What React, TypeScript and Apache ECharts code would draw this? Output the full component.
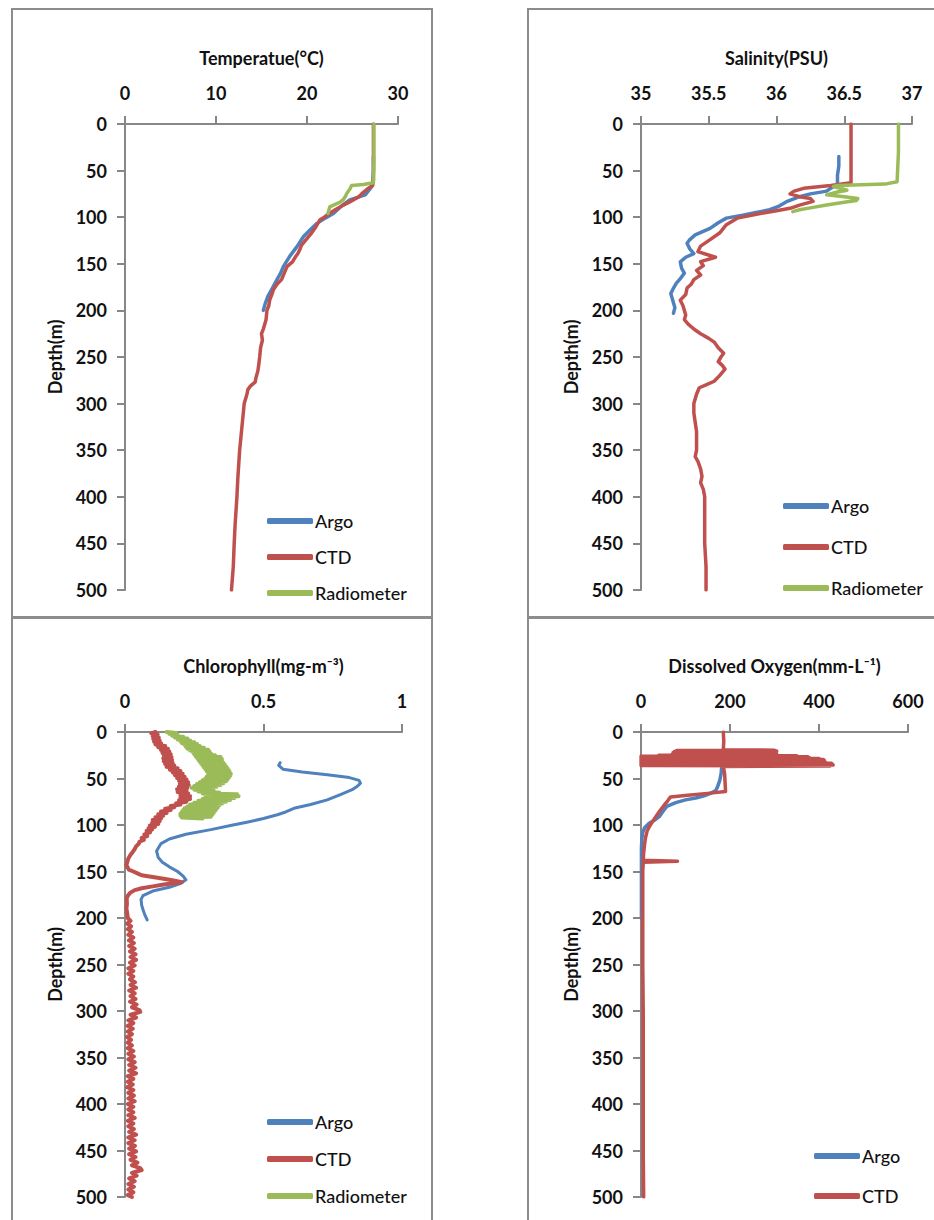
import React, { useEffect, useRef } from "react";
import * as echarts from "echarts";

// ---------- DATA: [depth (m), value] ----------
const tempArgo: number[][] = [
  [35, 27.3], [50, 27.3], [66, 27.2], [70, 26.9], [76, 26.4], [81.5, 24.7], [88, 23.8], [96, 22.9],
  [101, 22.0], [106.6, 21.1], [114, 20.3], [121, 19.6], [131.6, 18.9], [142, 18.1], [153, 17.4],
  [160, 17.1], [167, 16.7], [176, 16.2], [185, 15.7], [193, 15.4], [200, 15.2],
];
const tempCTD: number[][] = [
  [0, 27.3], [20, 27.3], [40, 27.3], [60, 27.3], [66, 27.2], [70, 26.6], [75, 26.0], [78, 25.7],
  [83, 24.8], [87, 24.0], [92, 23.1], [97, 22.3], [100, 21.9], [103, 21.4], [110, 21.0], [117, 20.5],
  [124, 19.9], [130, 19.4], [135, 19.2], [139, 19.0], [143, 18.7], [148, 18.4], [153, 17.8], [160, 17.5],
  [167, 17.2], [172, 16.7], [178, 16.3], [184, 16.1], [189, 15.9], [195, 15.8], [200, 15.6], [210, 15.5],
  [220, 15.2], [225, 15.0], [232, 15.1], [240, 14.9], [250, 14.8], [258, 14.7], [265, 14.6], [272, 14.4],
  [277, 14.3], [281, 13.8], [285, 13.5], [290, 13.4], [300, 13.1], [320, 12.9], [350, 12.6], [380, 12.4],
  [400, 12.3], [430, 12.1], [450, 12.0], [475, 11.9], [500, 11.7],
];
const tempRad: number[][] = [
  [0, 27.35], [20, 27.35], [40, 27.35], [63, 27.3], [65, 26.2], [66, 24.9], [70, 24.7], [74, 24.4],
  [78, 24.2], [81, 24.0], [84, 23.6], [89, 22.5], [96, 22.3],
];

const salArgo: number[][] = [
  [35, 36.46], [45, 36.46], [55, 36.45], [65, 36.45], [69, 36.4], [72, 36.37], [75, 36.25], [78, 36.17],
  [83, 36.08], [88, 36.02], [92, 35.95], [95, 35.85], [98, 35.75], [101, 35.63], [106, 35.57], [112, 35.51],
  [119, 35.4], [124, 35.36], [128, 35.34], [134, 35.36], [139, 35.39], [143, 35.33], [148, 35.29],
  [155, 35.3], [160, 35.32], [166, 35.29], [171, 35.26], [176, 35.24], [182, 35.22], [187, 35.23],
  [192, 35.24], [197, 35.25], [203, 35.24],
];
const salCTD: number[][] = [
  [0, 36.55], [30, 36.55], [63, 36.55], [66, 36.4], [69, 36.2], [72, 36.13], [75, 36.1], [78, 36.17],
  [80, 36.25], [83, 36.27], [87, 36.17], [90.5, 36.1], [93, 36.0], [96, 35.88], [101, 35.71], [108, 35.63],
  [117, 35.58], [124, 35.51], [131, 35.44], [137, 35.42], [143, 35.55], [147.7, 35.44], [152, 35.46],
  [157, 35.41], [162, 35.44], [167, 35.39], [172, 35.37], [176, 35.34], [183, 35.33], [189, 35.29],
  [195, 35.31], [200, 35.32], [205, 35.33], [210, 35.32], [215, 35.35], [220, 35.39], [225, 35.44],
  [230, 35.5], [234, 35.54], [240, 35.57], [246, 35.61], [250, 35.59], [255, 35.57], [259, 35.6],
  [263, 35.62], [270, 35.58], [276, 35.54], [280, 35.48], [283, 35.43], [290, 35.41], [300, 35.39],
  [310, 35.39], [320, 35.4], [330, 35.41], [340, 35.41], [350, 35.41], [357, 35.4], [362, 35.42],
  [370, 35.44], [378, 35.45], [385, 35.44], [392, 35.46], [400, 35.47], [420, 35.47], [450, 35.47],
  [475, 35.48], [500, 35.48],
];
const salRad: number[][] = [
  [0, 36.9], [30, 36.9], [62, 36.89], [64.5, 36.8], [66, 36.45], [67, 36.42], [69, 36.47], [71, 36.52],
  [73, 36.45], [76, 36.37], [78, 36.5], [80, 36.6], [82, 36.59], [84, 36.5], [87, 36.37], [90, 36.25],
  [92, 36.17], [94, 36.12],
];

const chlArgo: number[][] = [
  [33, 0.56], [36, 0.555], [40, 0.57], [43, 0.64], [46, 0.73], [49, 0.81], [52, 0.845], [55, 0.85],
  [58, 0.84], [62, 0.82], [67, 0.78], [73, 0.73], [78, 0.67], [82, 0.61], [86, 0.58], [89, 0.55],
  [93, 0.5], [97, 0.44], [100, 0.39], [105, 0.31], [110, 0.22], [115, 0.16], [120, 0.13], [128, 0.114],
  [135, 0.12], [140, 0.135], [145, 0.16], [150, 0.19], [155, 0.21], [159, 0.22], [163, 0.2], [167, 0.16],
  [171, 0.1], [176, 0.065], [180, 0.058], [186, 0.06], [192, 0.066], [197, 0.072], [202, 0.08],
];
const chlCTD: number[][] = [
  [0, 0.11], [1.5, 0.095], [3, 0.118], [4.5, 0.1], [6, 0.122], [7.5, 0.102], [9, 0.125], [10.5, 0.105],
  [12, 0.13], [13.5, 0.11], [15, 0.145], [16.5, 0.12], [18, 0.155], [19.5, 0.13], [21, 0.16], [22.5, 0.135],
  [24, 0.165], [25.5, 0.14], [27, 0.168], [28.5, 0.138], [30, 0.17], [31.5, 0.14], [33, 0.172],
  [34.5, 0.145], [36, 0.178], [37.5, 0.15], [39, 0.19], [40.5, 0.162], [42, 0.2], [43.5, 0.172],
  [45, 0.208], [46.5, 0.18], [48, 0.215], [49.5, 0.188], [51, 0.222], [52.5, 0.195], [54, 0.228],
  [55.5, 0.198], [57, 0.23], [58.5, 0.195], [60, 0.225], [61.5, 0.188], [63, 0.222], [64.5, 0.19],
  [66, 0.228], [67.5, 0.2], [69, 0.235], [70.5, 0.2], [72, 0.235], [73.5, 0.195], [75, 0.222], [76.5, 0.185],
  [78, 0.2], [79.5, 0.165], [81, 0.178], [82.5, 0.145], [84, 0.165], [85.5, 0.13], [87, 0.15], [88.5, 0.12],
  [90, 0.138], [91.5, 0.11], [93, 0.13], [94.5, 0.1], [96, 0.125], [97.5, 0.098], [99, 0.12], [100.5, 0.09],
  [102, 0.108], [103.5, 0.085], [105, 0.098], [106.5, 0.078], [108, 0.09], [110, 0.07], [112, 0.08],
  [114, 0.06], [116, 0.068], [118, 0.052], [120, 0.05], [123, 0.04], [126, 0.035], [129, 0.028],
  [132, 0.02], [136, 0.012], [140, 0.008], [143, 0.005], [146, 0.01], [148, 0.014], [150, 0.03],
  [152, 0.045], [154, 0.06], [156, 0.1], [158, 0.145], [160, 0.18], [161.6, 0.205], [163, 0.17],
  [164, 0.14], [166, 0.1], [168, 0.06], [170, 0.035], [173, 0.018], [176, 0.01], [179, 0.006],
  [185, 0.007], [190, 0.005], [195, 0.008], [200, 0.01], [203, 0.02], [206, 0.008], [209, 0.022],
  [212, 0.01], [215, 0.025], [218, 0.012], [221, 0.03], [224, 0.014], [227, 0.032], [230, 0.015],
  [233, 0.035], [236, 0.018], [239, 0.038], [242, 0.02], [245, 0.04], [248, 0.018], [251, 0.035],
  [254, 0.012], [257, 0.03], [260, 0.012], [263, 0.03], [266, 0.018], [269, 0.036], [272, 0.02],
  [275, 0.04], [278, 0.015], [281, 0.035], [284, 0.02], [287, 0.038], [290, 0.018], [293, 0.042],
  [296, 0.025], [299, 0.052], [301, 0.055], [304, 0.02], [307, 0.04], [310, 0.012], [313, 0.03],
  [316, 0.01], [319, 0.028], [322, 0.01], [325, 0.025], [328, 0.008], [331, 0.022], [334, 0.01],
  [337, 0.025], [340, 0.01], [343, 0.03], [346, 0.012], [349, 0.032], [352, 0.012], [355, 0.035],
  [358, 0.015], [361, 0.038], [364, 0.015], [367, 0.04], [370, 0.01], [373, 0.03], [376, 0.01],
  [379, 0.028], [382, 0.008], [385, 0.03], [388, 0.012], [391, 0.032], [394, 0.012], [397, 0.035],
  [400, 0.01], [403, 0.03], [406, 0.012], [409, 0.03], [412, 0.012], [415, 0.035], [418, 0.01],
  [421, 0.03], [424, 0.012], [427, 0.032], [430, 0.015], [433, 0.04], [436, 0.012], [439, 0.035],
  [442, 0.012], [445, 0.036], [448, 0.015], [451, 0.04], [454, 0.015], [457, 0.038], [460, 0.02],
  [463, 0.045], [466, 0.025], [469, 0.055], [471, 0.06], [474, 0.025], [477, 0.042], [480, 0.015],
  [483, 0.035], [486, 0.012], [489, 0.032], [492, 0.012], [495, 0.03], [498, 0.01], [500, 0.025],
];
const chlRad: number[][] = [
  [0, 0.15], [1, 0.185], [2, 0.16], [3, 0.19], [4, 0.17], [5, 0.21], [6, 0.18], [7, 0.225], [8, 0.19],
  [9, 0.235], [10, 0.2], [11, 0.25], [12, 0.205], [13, 0.26], [14, 0.215], [15, 0.27], [16, 0.22],
  [17, 0.285], [18, 0.225], [19, 0.3], [20, 0.235], [21, 0.305], [22, 0.245], [23, 0.31], [24, 0.25],
  [25, 0.325], [26, 0.255], [27, 0.345], [28, 0.26], [29, 0.35], [30, 0.265], [31, 0.35], [32, 0.27],
  [33, 0.355], [34, 0.275], [35, 0.36], [36, 0.28], [37, 0.365], [38, 0.285], [39, 0.37], [40, 0.29],
  [41, 0.375], [42, 0.295], [43, 0.378], [44, 0.3], [45, 0.382], [46, 0.3], [47, 0.38], [48, 0.295],
  [49, 0.375], [50, 0.29], [51, 0.37], [52, 0.28], [53, 0.365], [54, 0.27], [55, 0.355], [56, 0.26],
  [57, 0.345], [58, 0.25], [59, 0.33], [60, 0.24], [61, 0.31], [62, 0.25], [63, 0.32], [64, 0.265],
  [65, 0.34], [66, 0.28], [67, 0.405], [68, 0.3], [69, 0.41], [70, 0.29], [71, 0.395], [72, 0.28],
  [73, 0.38], [74, 0.265], [75, 0.365], [76, 0.25], [77, 0.35], [78, 0.235], [79, 0.34], [80, 0.225],
  [81, 0.335], [82, 0.215], [83, 0.33], [84, 0.21], [85, 0.325], [86, 0.205], [87, 0.32], [88, 0.2],
  [89, 0.315], [90, 0.2], [91, 0.31], [92, 0.205], [93, 0.28],
];

const oxyArgo: number[][] = [
  [39, 181], [45, 180], [52, 177], [59, 172], [63, 168], [66, 156], [69, 140], [71, 123], [73, 100],
  [76, 78], [80, 58], [85, 50], [91, 41], [95, 30], [98, 19], [103, 8], [108, 4], [114, 2], [125, 1],
  [140, 1], [160, 1], [180, 1], [200, 1],
];
const oxyCTD: number[][] = [
  [0, 185], [10, 186], [19, 185], [19.5, 300], [20, 80], [20.5, 305], [21, 75], [21.5, 290], [22, 72],
  [22.5, 300], [23, 90], [23.5, 305], [24, 70], [24.5, 300], [25, 40], [25.5, 350], [26, 0], [26.5, 375],
  [27, 0], [27.5, 378], [28, 0], [28.5, 400], [29, 0], [29.5, 410], [30, 0], [30.5, 412], [31, 0],
  [31.5, 410], [32, 0], [32.5, 415], [33, 0], [33.5, 428], [34, 0], [34.5, 430], [35, 0], [35.5, 432],
  [36, 0], [36.5, 425], [37, 185], [45, 188], [55, 189], [64, 190], [66, 150], [68, 105], [70, 66],
  [74, 60], [78.7, 52], [85, 42], [92, 32], [100, 21], [106, 14], [114, 10], [121, 8], [130, 6],
  [138, 5], [139, 82], [140, 5], [150, 4], [200, 4], [250, 4], [300, 5], [350, 5], [400, 5],
  [450, 5], [500, 6],
];

const depthTicks = { min: 0, max: 500, interval: 50 };

const COLORS: Record<string, string> = {
  Argo: "#4F81BD",
  CTD: "#C0504D",
  Radiometer: "#9BBB59",
};

const FONT = 'Lato, "Open Sans", sans-serif';

type Panel = {
  grid: { left: number; top: number; width: number; height: number };
  title: string;
  min: number;
  max: number;
  interval: number;
  series: { name: string; data: number[][]; width: number }[];
  legend: { left: number; top: number; itemGap: number };
};

const panels: Panel[] = [
  {
    grid: { left: 125, top: 124, width: 273, height: 466 },
    title: "Temperatue(°C)",
    min: 0, max: 30, interval: 10,
    series: [
      { name: "Argo", data: tempArgo, width: 3.5 },
      { name: "CTD", data: tempCTD, width: 3.5 },
      { name: "Radiometer", data: tempRad, width: 3.5 },
    ],
    legend: { left: 267, top: 511, itemGap: 16 },
  },
  {
    grid: { left: 641, top: 124, width: 271, height: 466 },
    title: "Salinity(PSU)",
    min: 35, max: 37, interval: 0.5,
    series: [
      { name: "Argo", data: salArgo, width: 3.5 },
      { name: "CTD", data: salCTD, width: 3.5 },
      { name: "Radiometer", data: salRad, width: 3.5 },
    ],
    legend: { left: 783, top: 496, itemGap: 21 },
  },
  {
    grid: { left: 125, top: 732, width: 277, height: 465 },
    title: "Chlorophyll(mg-m⁻³)",
    min: 0, max: 1, interval: 0.5,
    series: [
      { name: "Argo", data: chlArgo, width: 3 },
      { name: "CTD", data: chlCTD, width: 4 },
      { name: "Radiometer", data: chlRad, width: 4 },
    ],
    legend: { left: 267, top: 1112, itemGap: 17 },
  },
  {
    grid: { left: 641, top: 732, width: 267, height: 465 },
    title: "Dissolved Oxygen(mm-L⁻¹)",
    min: 0, max: 600, interval: 200,
    series: [
      { name: "Argo", data: oxyArgo, width: 3.5 },
      { name: "CTD", data: oxyCTD, width: 3.5 },
    ],
    legend: { left: 814, top: 1146, itemGap: 20 },
  },
];

const AXIS_GRAY = "#878787";
const BORDER_GRAY = "#8c8c8c";

export default function App() {
  const ref = useRef<HTMLDivElement>(null);

  useEffect(() => {
    if (!ref.current) return;
    const chart = echarts.init(ref.current, undefined, { renderer: "svg" });

    const grid = panels.map((p) => ({ ...p.grid, containLabel: false }));
    const xAxis = panels.map((p, i) => ({
      gridIndex: i,
      type: "value",
      position: "top",
      min: p.min,
      max: p.max,
      interval: p.interval,
      name: p.title,
      nameLocation: "middle",
      nameGap: 57,
      nameTextStyle: { fontFamily: FONT, fontWeight: "bold", fontSize: 18, color: "#111" },
      axisLine: { show: true, lineStyle: { color: AXIS_GRAY, width: 2 } },
      axisTick: { show: true, inside: false, length: 8, lineStyle: { color: AXIS_GRAY, width: 2 } },
      axisLabel: { margin: 22, fontFamily: FONT, fontWeight: "bold", fontSize: 18, color: "#111" },
      splitLine: { show: false },
    }));
    const yAxis = panels.map((p, i) => ({
      gridIndex: i,
      type: "value",
      inverse: true,
      ...depthTicks,
      name: "Depth(m)",
      nameLocation: "middle",
      nameGap: 61,
      nameRotate: 90,
      nameTextStyle: { fontFamily: FONT, fontWeight: "bold", fontSize: 18, color: "#111" },
      axisLine: { show: true, onZero: false, lineStyle: { color: AXIS_GRAY, width: 2 } },
      axisTick: { show: true, inside: false, length: 8, lineStyle: { color: AXIS_GRAY, width: 2 } },
      axisLabel: { margin: 18, fontFamily: FONT, fontWeight: "bold", fontSize: 18, color: "#111" },
      splitLine: { show: false },
    }));
    const series: any[] = [];
    panels.forEach((p, i) => {
      p.series.forEach((s) => {
        series.push({
          type: "line",
          name: s.name,
          xAxisIndex: i,
          yAxisIndex: i,
          symbol: "none",
          showSymbol: false,
          smooth: false,
          color: COLORS[s.name],
          lineStyle: { width: s.width, color: COLORS[s.name], cap: "round", join: "round" },
          data: s.data.map(([d, v]) => [v, d]),
        });
      });
    });
    const legend = panels.map((p) => ({
      orient: "vertical",
      left: p.legend.left,
      top: p.legend.top,
      itemGap: p.legend.itemGap,
      itemWidth: 46,
      itemHeight: 6,
      icon: "roundRect",
      selectedMode: false,
      padding: 0,
      data: p.series.map((s) => s.name),
      textStyle: {
        fontFamily: FONT,
        fontSize: 18,
        fontWeight: 500,
        color: "#111",
        lineHeight: 20,
        padding: [0, 0, 0, -3],
      },
    }));

    const borders = [
      { x: 12, y: 9, width: 420, height: 608 },
      { x: 528, y: 9, width: 420, height: 608 },
      { x: 12, y: 618, width: 420, height: 620 },
      { x: 528, y: 618, width: 420, height: 620 },
    ].map((shape) => ({
      type: "rect",
      shape,
      silent: true,
      z: -1,
      style: { fill: "none", stroke: BORDER_GRAY, lineWidth: 2 },
    }));

    chart.setOption({
      animation: false,
      backgroundColor: "#ffffff",
      grid,
      xAxis,
      yAxis,
      legend,
      series,
      graphic: borders,
    } as any);

    return () => chart.dispose();
  }, []);

  return (
    <div
      ref={ref}
      style={{ position: "absolute", left: 0, top: 0, width: 934, height: 1220 }}
    />
  );
}
